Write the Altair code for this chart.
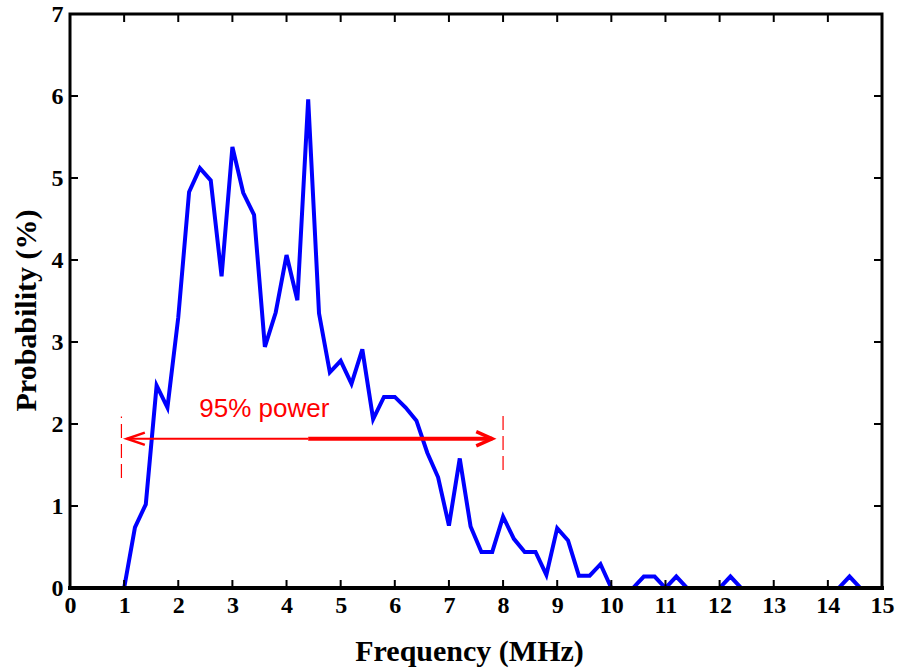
import altair as alt
import pandas as pd

# Frequency bins (MHz) and the probability of each bin (%)
freq = [1.0, 1.2, 1.4, 1.6, 1.8, 2.0, 2.2, 2.4, 2.6, 2.8,
        3.0, 3.2, 3.4, 3.6, 3.8, 4.0, 4.2, 4.4, 4.6, 4.8,
        5.0, 5.2, 5.4, 5.6, 5.8, 6.0, 6.2, 6.4, 6.6, 6.8,
        7.0, 7.2, 7.4, 7.6, 7.8, 8.0, 8.2, 8.4, 8.6, 8.8,
        9.0, 9.2, 9.4, 9.6, 9.8, 10.0, 10.2, 10.4, 10.6, 10.8,
        11.0, 11.2, 11.4, 11.6, 11.8, 12.0, 12.2, 12.4, 12.6, 12.8,
        13.0, 13.2, 13.4, 13.6, 13.8, 14.0, 14.2, 14.4, 14.6, 14.8, 15.0]
prob = [0.0, 0.74, 1.02, 2.47, 2.2, 3.3, 4.83, 5.12, 4.97, 3.8,
        5.38, 4.82, 4.55, 2.94, 3.36, 4.06, 3.51, 5.96, 3.35, 2.63,
        2.77, 2.49, 2.91, 2.06, 2.33, 2.33, 2.2, 2.04, 1.65, 1.35,
        0.76, 1.58, 0.75, 0.44, 0.44, 0.87, 0.6, 0.44, 0.44, 0.16,
        0.73, 0.58, 0.15, 0.15, 0.29, 0.0, 0.0, 0.0, 0.14, 0.14,
        0.0, 0.14, 0.0, 0.0, 0.0, 0.0, 0.14, 0.0, 0.0, 0.0,
        0.0, 0.0, 0.0, 0.0, 0.0, 0.0, 0.0, 0.14, 0.0, 0.0, 0.0]

x_ticks = list(range(0, 16))
y_ticks = list(range(0, 8))

# 95% power band annotation
band_edges = [0.95, 8.0]
band_dash_low = [1.34, 1.44]
band_dash_high = [2.09, 2.17]
arrow_level = 1.82
arrow_left = 1.05
arrow_split = 4.40
arrow_right = 7.8
label_text = "95% power"
label_freq = 3.59
label_level = 2.09

BLUE = "#0000FF"
RED = "#FF0000"
SERIF = "Liberation Serif"

spectrum = pd.DataFrame({"f": freq, "p": prob})
xs = alt.Scale(domain=[0, 15], nice=False, zero=False)
ys = alt.Scale(domain=[0, 7], nice=False, zero=False)

x_axis = alt.Axis(values=x_ticks, format="d", grid=False, domain=False, ticks=False,
                  tickSize=0, labelFont=SERIF, labelFontWeight="bold", labelFontSize=24,
                  labelColor="black", labelPadding=5, labelFlush=False, labelOverlap=False,
                  title="Frequency (MHz)", titleFont=SERIF, titleFontSize=30,
                  titleFontWeight="bold", titleColor="black", titleBaseline="alphabetic",
                  titleY=72, titleX=399)
y_axis = alt.Axis(values=y_ticks, format="d", grid=False, domain=False, ticks=False,
                  tickSize=0, labelFont=SERIF, labelFontWeight="bold", labelFontSize=24,
                  labelColor="black", labelPadding=7, labelFlush=False, labelOverlap=False,
                  title="Probability (%)", titleFont=SERIF, titleFontSize=30,
                  titleFontWeight="bold", titleColor="black", titleBaseline="alphabetic",
                  titleAngle=270, titleX=-35, titleY=296)


def X(field):
    return alt.X(field, scale=xs, axis=x_axis)


def Y(field):
    return alt.Y(field, scale=ys, axis=y_axis)


line = alt.Chart(spectrum).mark_line(color=BLUE, strokeWidth=4, clip=True).encode(
    x=X("f:Q"), y=Y("p:Q"),
)

edges = pd.DataFrame({"f": band_edges, "lo": band_dash_low, "hi": band_dash_high})
dashes = alt.Chart(edges).mark_rule(color=RED, strokeWidth=1.2, strokeDash=[14, 6]).encode(
    x=X("f:Q"), y=Y("lo:Q"), y2="hi:Q",
)

thin = pd.DataFrame({"a": [arrow_left], "b": [arrow_split], "y": [arrow_level]})
thick = pd.DataFrame({"a": [arrow_split], "b": [arrow_right], "y": [arrow_level]})
shaft_thin = alt.Chart(thin).mark_rule(color=RED, strokeWidth=2).encode(
    x=X("a:Q"), x2="b:Q", y=Y("y:Q"),
)
shaft_thick = alt.Chart(thick).mark_rule(color=RED, strokeWidth=4).encode(
    x=X("a:Q"), x2="b:Q", y=Y("y:Q"),
)

head_left = alt.Chart(pd.DataFrame({"f": [arrow_left], "y": [arrow_level]})).mark_point(
    shape="M1,-0.34L0,0L1,0.34", size=1296, filled=False, color=RED, strokeWidth=2.5, opacity=1
).encode(x=X("f:Q"), y=Y("y:Q"))

head_right = alt.Chart(pd.DataFrame({"f": [arrow_right], "y": [arrow_level]})).mark_point(
    shape="M-1,-0.45L0,0L-1,0.45", size=1024, filled=False, color=RED, strokeWidth=3.5, opacity=1
).encode(x=X("f:Q"), y=Y("y:Q"))

label = alt.Chart(pd.DataFrame({"f": [label_freq], "y": [label_level], "t": [label_text]})).mark_text(
    color=RED, font="Liberation Sans", fontSize=26, align="center", baseline="alphabetic"
).encode(x=X("f:Q"), y=Y("y:Q"), text="t:N")

# inward-pointing ticks on all four sides of the box
xt = pd.DataFrame({"v": x_ticks})
yt = pd.DataFrame({"v": y_ticks})
tick_style = dict(color="black", strokeWidth=2)
ticks_bottom = alt.Chart(xt).mark_rule(**tick_style).encode(
    x=X("v:Q"), y=alt.value(574), y2=alt.value(566))
ticks_top = alt.Chart(xt).mark_rule(**tick_style).encode(
    x=X("v:Q"), y=alt.value(0), y2=alt.value(8))
ticks_left = alt.Chart(yt).mark_rule(**tick_style).encode(
    y=Y("v:Q"), x=alt.value(0), x2=alt.value(8))
ticks_right = alt.Chart(yt).mark_rule(**tick_style).encode(
    y=Y("v:Q"), x=alt.value(812), x2=alt.value(804))

# box drawn last so it sits over the curve where the curve runs along zero
box = pd.DataFrame({"x0": [0], "x1": [15], "y0": [0], "y1": [7]})
frame = alt.Chart(box).mark_rect(
    fillOpacity=0, stroke="black", strokeWidth=3
).encode(x=X("x0:Q"), x2="x1:Q", y=Y("y0:Q"), y2="y1:Q")
baseline = alt.Chart(box).mark_rule(color="black", strokeWidth=4, strokeCap="square").encode(
    x=X("x0:Q"), x2="x1:Q", y=Y("y0:Q"))

chart = alt.layer(
    line, dashes, shaft_thin, shaft_thick, head_left, head_right, label,
    ticks_bottom, ticks_top, ticks_left, ticks_right, frame, baseline,
).properties(
    width=812, height=574,
    padding={"left": 70, "top": 14, "right": 16, "bottom": 84},
    autosize=alt.AutoSizeParams(type="none"),
    background="white",
).configure_view(strokeWidth=0)

chart.save("out.html", embed_options={"renderer": "svg", "actions": False})
